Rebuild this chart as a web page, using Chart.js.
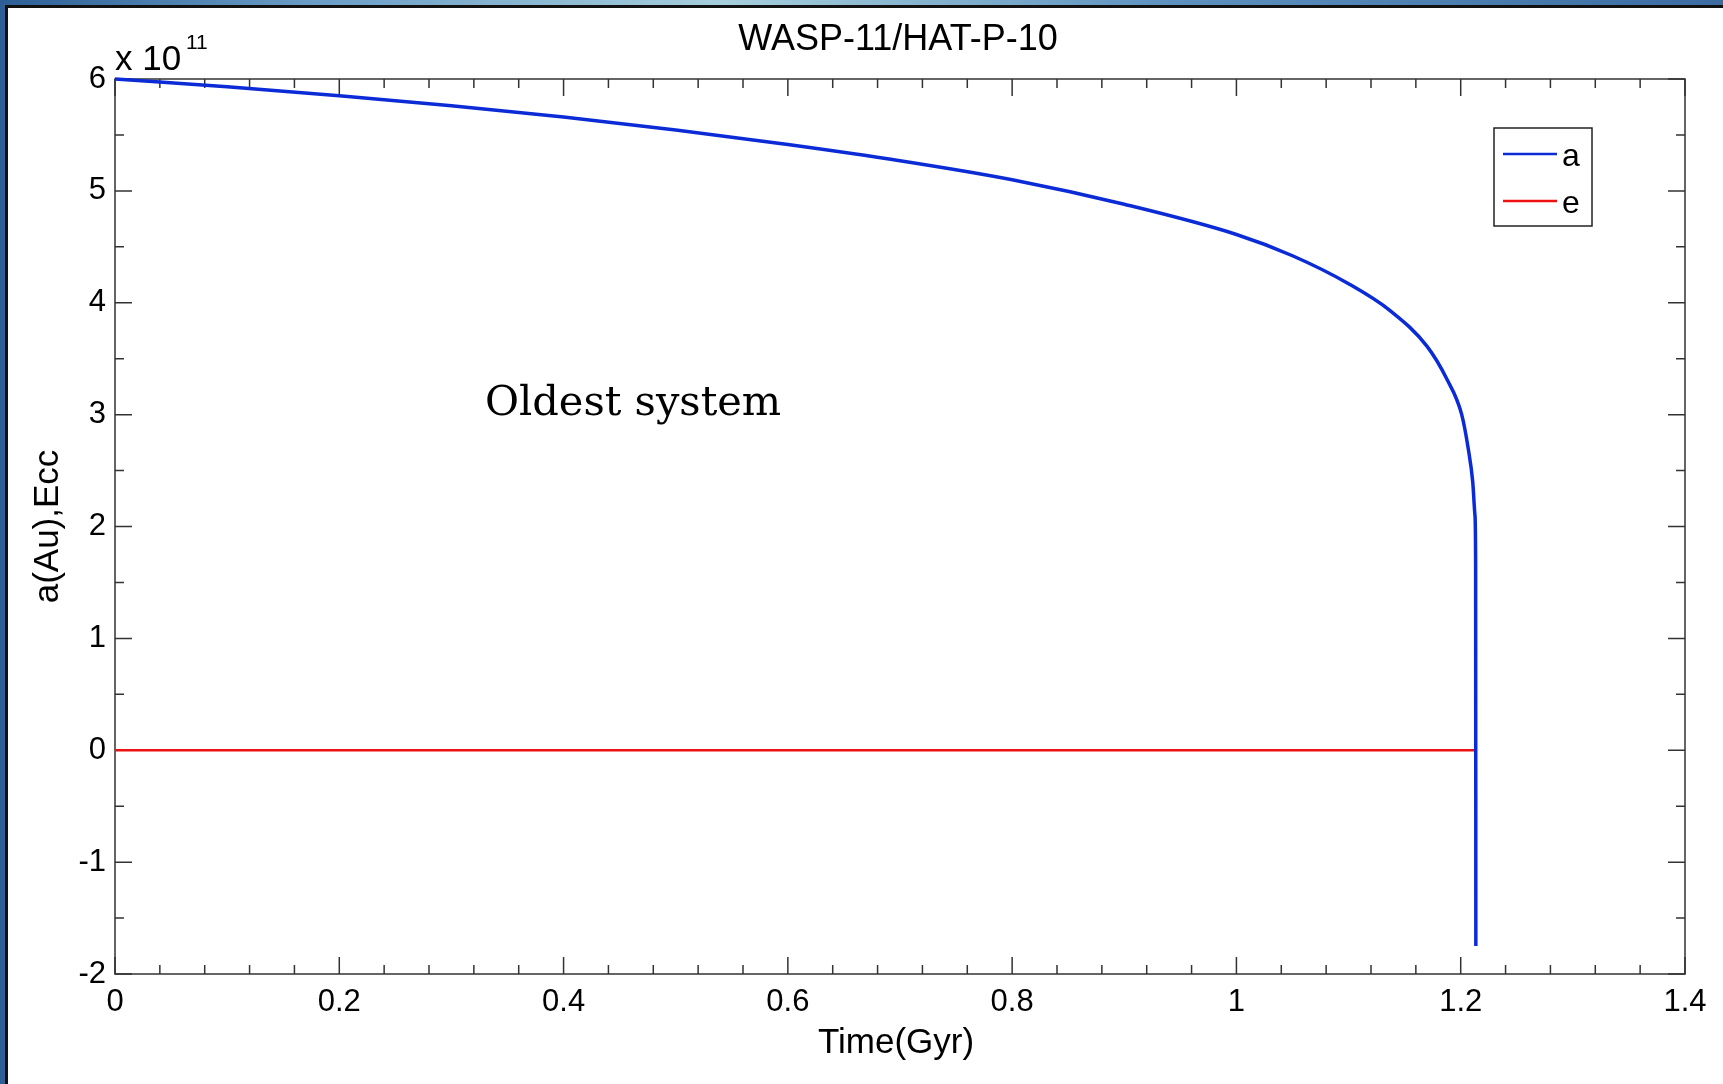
<!DOCTYPE html>
<html>
<head>
<meta charset="utf-8">
<title>WASP-11/HAT-P-10</title>
<script src="https://cdn.jsdelivr.net/npm/chart.js@4.4.1/dist/chart.umd.min.js"></script>
<style>
html, body { margin: 0; padding: 0; }
body {
    width: 1723px; height: 1084px; overflow: hidden; position: relative;
    background: linear-gradient(90deg, #2d5f96 0%, #6a9cc6 18%, #a6cfdc 42%, #5d91bf 68%, #3c6ca2 100%);
}
#panel {
    position: absolute; left: 5px; top: 5px; right: 0; bottom: 0;
    background: #fff; border-left: 3px solid #111; border-top: 3px solid #111;
}
#chart { position: absolute; left: 0; top: 0; }
</style>
</head>
<body>
<div id="panel"></div>
<canvas id="chart" width="1723" height="1084"></canvas>
<script>
// time in Gyr, a in units of 1e11
const timeA = [0, 0.1, 0.2, 0.3, 0.4, 0.5, 0.6, 0.7, 0.8, 0.9, 1.0, 1.05, 1.1, 1.137, 1.17, 1.1875, 1.2009, 1.2068, 1.2107, 1.2127, 1.2133, 1.2135];
const aValues = [6.0, 5.93, 5.85, 5.76, 5.66, 5.545, 5.415, 5.27, 5.10, 4.88, 4.61, 4.42, 4.17, 3.93, 3.61, 3.32, 3.00, 2.69, 2.40, 2.10, 1.66, -1.75];
const timeE = [0, 1.2133];
const eValues = [0, 0];

const xTickValues = [0, 0.2, 0.4, 0.6, 0.8, 1, 1.2, 1.4];
const yTickValues = [-2, -1, 0, 1, 2, 3, 4, 5, 6];
const xMinorStep = 0.04;
const yMinorStep = 0.5;

const SANS = '"Liberation Sans", Arial, sans-serif';

function toPoints(xs, ys) {
    return xs.map((x, i) => ({ x: x, y: ys[i] }));
}

const frame = {
    id: 'frame',
    beforeDatasetsDraw(chart) {
        const { ctx, chartArea: a, scales: { x, y } } = chart;
        ctx.save();
        ctx.strokeStyle = '#333';
        ctx.lineWidth = 1.5;
        ctx.strokeRect(a.left, a.top, a.right - a.left, a.bottom - a.top);
        ctx.beginPath();
        const nx = Math.round((x.max - x.min) / xMinorStep);
        for (let i = 0; i <= nx; i++) {
            const px = x.getPixelForValue(x.min + i * xMinorStep);
            const len = i % 5 === 0 ? 17 : 9;
            ctx.moveTo(px, a.bottom); ctx.lineTo(px, a.bottom - len);
            ctx.moveTo(px, a.top); ctx.lineTo(px, a.top + len);
        }
        const ny = Math.round((y.max - y.min) / yMinorStep);
        for (let i = 0; i <= ny; i++) {
            const py = y.getPixelForValue(y.min + i * yMinorStep);
            const len = i % 2 === 0 ? 17 : 9;
            ctx.moveTo(a.left, py); ctx.lineTo(a.left + len, py);
            ctx.moveTo(a.right, py); ctx.lineTo(a.right - len, py);
        }
        ctx.stroke();
        ctx.restore();
    },
    afterDraw(chart) {
        const { ctx, chartArea: a } = chart;
        const midX = (a.left + a.right) / 2;
        const midY = (a.top + a.bottom) / 2;
        ctx.save();
        ctx.fillStyle = '#000';

        // title
        ctx.font = '36px ' + SANS;
        ctx.textAlign = 'center';
        ctx.textBaseline = 'alphabetic';
        ctx.fillText('WASP-11/HAT-P-10', midX - 2, 50);

        // exponent
        ctx.textAlign = 'left';
        ctx.font = '35px ' + SANS;
        ctx.fillText('x 10', a.left, 70);
        ctx.font = '21px ' + SANS;
        ctx.fillText('11', a.left + 71, 49);

        // axis titles
        ctx.font = '35px ' + SANS;
        ctx.textAlign = 'center';
        ctx.fillText('Time(Gyr)', midX - 4, 1053);
        ctx.save();
        ctx.translate(48, midY);
        ctx.rotate(-Math.PI / 2);
        ctx.textBaseline = 'middle';
        ctx.fillText('a(Au),Ecc', 0, 0);
        ctx.restore();

        // annotation
        ctx.font = '41.5px "DejaVu Serif", serif';
        ctx.textAlign = 'left';
        ctx.fillText('Oldest system', 485, 415);

        // legend
        const lx = 1494, ly = 128, lw = 98, lh = 98;
        ctx.fillStyle = '#fff';
        ctx.fillRect(lx, ly, lw, lh);
        ctx.strokeStyle = '#222';
        ctx.lineWidth = 1.5;
        ctx.strokeRect(lx, ly, lw, lh);
        ctx.font = '32px ' + SANS;
        ctx.textBaseline = 'middle';
        chart.data.datasets.forEach((ds, i) => {
            const yy = ly + 26 + i * 47;
            ctx.strokeStyle = ds.borderColor;
            ctx.lineWidth = 2.5;
            ctx.beginPath();
            ctx.moveTo(lx + 9, yy);
            ctx.lineTo(lx + 63, yy);
            ctx.stroke();
            ctx.fillStyle = '#000';
            ctx.fillText(ds.label, lx + 68, yy + 3);
        });
        ctx.restore();
    }
};

new Chart(document.getElementById('chart'), {
    type: 'line',
    data: {
        datasets: [
            {
                label: 'a',
                data: toPoints(timeA, aValues),
                borderColor: '#0b2bd6',
                borderWidth: 3.5,
                pointRadius: 0,
                cubicInterpolationMode: 'monotone',
                clip: false
            },
            {
                label: 'e',
                data: toPoints(timeE, eValues),
                borderColor: '#ee1111',
                borderWidth: 2.5,
                pointRadius: 0
            }
        ]
    },
    options: {
        responsive: false,
        animation: false,
        events: [],
        layout: { padding: { top: 79, right: 38, left: 0, bottom: 0 } },
        plugins: {
            legend: { display: false },
            tooltip: { enabled: false }
        },
        scales: {
            x: {
                type: 'linear',
                min: 0,
                max: 1.4,
                afterFit: (s) => { s.height = 110; },
                afterBuildTicks: (s) => { s.ticks = xTickValues.map(v => ({ value: v })); },
                grid: { display: false, drawTicks: false },
                border: { display: false },
                ticks: {
                    color: '#000',
                    font: { family: SANS, size: 31 },
                    padding: 10,
                    maxRotation: 0,
                    autoSkip: false,
                    callback: (v) => String(Math.round(v * 10) / 10)
                }
            },
            y: {
                type: 'linear',
                min: -2,
                max: 6,
                afterFit: (s) => { s.width = 115; },
                afterBuildTicks: (s) => { s.ticks = yTickValues.map(v => ({ value: v })); },
                grid: { display: false, drawTicks: false },
                border: { display: false },
                ticks: {
                    color: '#000',
                    font: { family: SANS, size: 31 },
                    padding: 9,
                    autoSkip: false,
                    callback: (v) => String(v)
                }
            }
        }
    },
    plugins: [frame]
});
</script>
</body>
</html>
